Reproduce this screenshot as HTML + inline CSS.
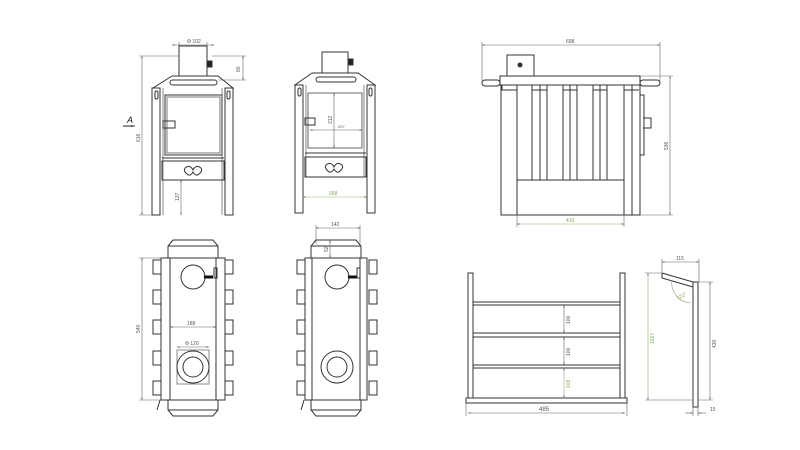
<!DOCTYPE html>
<html><head><meta charset="utf-8"><style>
html,body{margin:0;padding:0;background:#fff;}
svg{display:block}
text{font-family:"Liberation Sans",sans-serif;fill:#555;}
</style></head><body>
<svg width="800" height="450" viewBox="0 0 800 450" xmlns="http://www.w3.org/2000/svg">
<defs>
<marker id="a" viewBox="0 0 10 10" refX="10" refY="5" markerWidth="4" markerHeight="4" orient="auto-start-reverse"><path d="M0,2L10,5L0,8z" fill="#555"/></marker>
</defs>
<g fill="none" stroke="#333" stroke-width="1">
<!-- VIEW 1 -->
<rect x="179" y="46" width="28" height="30"/>
<rect x="207" y="61" width="5" height="6" fill="#222"/>
<path d="M172,76 L218,76 L233,88 L225,88 L225,180 M172,76 L153,88 L160,88 L160,180"/>
<rect x="152" y="88" width="8" height="127"/>
<rect x="225" y="88" width="8" height="127"/>
<line x1="163" y1="88" x2="163" y2="215" stroke="#888"/>
<line x1="222" y1="88" x2="222" y2="215" stroke="#888"/>
<rect x="170" y="80" width="47" height="5" rx="2.5"/>
<rect x="155" y="91" width="3" height="8" rx="1.5"/>
<rect x="227" y="91" width="3" height="8" rx="1.5"/>
<rect x="165" y="95" width="57" height="60"/>
<rect x="167" y="97" width="53" height="56" stroke="#777"/>
<rect x="163" y="121" width="12" height="7"/>
<line x1="162" y1="158" x2="224" y2="158"/>
<rect x="162" y="161" width="62" height="19"/>
<path d="M185,168 q5,-4 8,2 q3,-6 8,-2 q2,3 -2,6 q-3,3 -6,-2 q-3,5 -6,2 q-4,-3 -2,-6z"/>
<!-- VIEW 2 -->
<rect x="322" y="52" width="26" height="21"/>
<rect x="348" y="59" width="5" height="6" fill="#222"/>
<path d="M312,73 L358,73 L375,85 L367,85 M312,73 L295,85 L303,85"/>
<rect x="295" y="85" width="8" height="128"/>
<rect x="367" y="85" width="8" height="128"/>
<line x1="306" y1="85" x2="306" y2="177" stroke="#888"/>
<line x1="364" y1="85" x2="364" y2="177" stroke="#888"/>
<rect x="316" y="77" width="40" height="5" rx="2.5"/>
<rect x="298" y="88" width="3" height="8" rx="1.5"/>
<rect x="369" y="88" width="3" height="8" rx="1.5"/>
<rect x="308" y="93" width="54" height="55" stroke="#666"/>
<rect x="305" y="118" width="10" height="7"/>
<line x1="305" y1="153" x2="366" y2="153"/>
<rect x="305" y="157" width="61" height="20"/>
<path d="M326,165 q5,-4 8,2 q3,-6 8,-2 q2,3 -2,6 q-3,3 -6,-2 q-3,5 -6,2 q-4,-3 -2,-6z"/>
<!-- VIEW 3 -->
<rect x="507" y="55" width="27" height="21"/>
<circle cx="520" cy="65" r="2" fill="#333"/>
<rect x="500" y="76" width="140" height="9"/>
<rect x="482" y="80" width="18" height="6" rx="3"/>
<rect x="640" y="80" width="20" height="6" rx="3"/>
<rect x="501" y="85" width="139" height="130"/>
<rect x="517" y="180" width="107" height="35"/>
<path d="M517,85V180 M532,85V180 M540,85V180 M547,85V180 M563,85V180 M570,85V180 M577,85V180 M593,85V180 M600,85V180 M607,85V180 M624,85V180 M632,85V215"/>
<path d="M532,85v5h15v-5 M563,85v5h14v-5 M593,85v5h14v-5 M624,85v5h15 M502,85v5h15"/>
<path d="M640,95 h4 v60 h-4 M643,118 h8 v10 h-8"/>
<!-- VIEW 4 -->
<path d="M173,240 L213,240 L218,246 L218,258 M173,240 L168,246 L168,258 M168,246 L218,246"/>
<rect x="161" y="258" width="64" height="142"/>
<line x1="170" y1="258" x2="170" y2="400"/>
<line x1="216" y1="258" x2="216" y2="400"/>
<g id="tabs">
<rect x="153" y="260" width="8" height="14"/><rect x="153" y="290" width="8" height="14"/><rect x="153" y="320" width="8" height="14"/><rect x="153" y="351" width="8" height="14"/><rect x="153" y="381" width="8" height="14"/>
<rect x="225" y="260" width="8" height="14"/><rect x="225" y="290" width="8" height="14"/><rect x="225" y="320" width="8" height="14"/><rect x="225" y="351" width="8" height="14"/><rect x="225" y="381" width="8" height="14"/>
</g>
<circle cx="193" cy="277" r="12"/>
<line x1="204" y1="277" x2="213" y2="277" stroke="#111" stroke-width="3"/>
<rect x="214" y="268" width="3" height="10"/>
<rect x="177" y="350" width="32" height="34" stroke="#888"/>
<circle cx="193" cy="367" r="16"/>
<circle cx="193" cy="367" r="10"/>
<path d="M168,400 L168,410 L173,416 L213,416 L218,410 L218,400 M168,410 L218,410"/>
<path d="M160,400 l-3,10"/>
<!-- VIEW 5 -->
<path d="M316,240 L356,240 L361,246 L361,258 M316,240 L311,246 L311,258 M311,246 L361,246"/>
<rect x="305" y="258" width="62" height="142"/>
<line x1="312" y1="258" x2="312" y2="400"/>
<line x1="360" y1="258" x2="360" y2="400"/>
<use href="#tabs" x="144"/>
<circle cx="337" cy="277" r="12"/>
<line x1="348" y1="277" x2="357" y2="277" stroke="#111" stroke-width="3"/>
<rect x="357" y="268" width="3" height="10"/>
<circle cx="337" cy="367" r="16"/>
<circle cx="337" cy="367" r="10"/>
<path d="M311,400 L311,410 L316,416 L356,416 L361,410 L361,400 M311,410 L361,410"/>
<path d="M304,400 l-3,10"/>
<!-- VIEW 6 -->
<rect x="468" y="273" width="5" height="125"/>
<rect x="620" y="273" width="5" height="125"/>
<rect x="473" y="302" width="147" height="3"/>
<rect x="473" y="333" width="147" height="4"/>
<rect x="473" y="365" width="147" height="3"/>
<rect x="466" y="398" width="161" height="5"/>
<!-- VIEW 7 -->
<path d="M662,273 L693,282 L693,407 L698,407 L698,282 L693,282 M662,273 L662,278 L693,287"/>
</g>
<!-- Dimensions -->
<g stroke="#666" stroke-width="0.6" fill="none">
<line x1="172" y1="45" x2="214" y2="45" marker-start="url(#a)" marker-end="url(#a)"/>
<path d="M179,42V46 M207,42V46"/>
<line x1="142" y1="56" x2="142" y2="215" marker-start="url(#a)" marker-end="url(#a)"/>
<path d="M139,56H179 M139,215H152 M212,56H246 M218,80H246"/>
<line x1="243" y1="56" x2="243" y2="80" marker-start="url(#a)" marker-end="url(#a)"/>
<line x1="181" y1="180" x2="181" y2="215" marker-start="url(#a)" marker-end="url(#a)"/>
<line x1="334" y1="93" x2="334" y2="148" marker-start="url(#a)" marker-end="url(#a)"/>
<line x1="310" y1="130" x2="362" y2="130" marker-start="url(#a)" marker-end="url(#a)"/>
<line x1="303" y1="197" x2="367" y2="197" stroke="#9a6" marker-start="url(#a)" marker-end="url(#a)"/>
<line x1="482" y1="45" x2="660" y2="45" marker-start="url(#a)" marker-end="url(#a)"/>
<path d="M482,42V82 M660,42V82 M640,76H673 M640,215H673 M517,215V227 M624,215V227"/>
<line x1="670" y1="76" x2="670" y2="215" marker-start="url(#a)" marker-end="url(#a)"/>
<line x1="517" y1="224" x2="624" y2="224" stroke="#9a6" marker-start="url(#a)" marker-end="url(#a)"/>
<line x1="170" y1="327" x2="216" y2="327" marker-start="url(#a)" marker-end="url(#a)"/>
<line x1="177" y1="347" x2="209" y2="347" marker-start="url(#a)" marker-end="url(#a)"/>
<line x1="142" y1="258" x2="142" y2="400" marker-start="url(#a)" marker-end="url(#a)"/>
<path d="M139,258H161 M139,400H161"/>
<line x1="316" y1="228" x2="360" y2="228" marker-start="url(#a)" marker-end="url(#a)"/>
<path d="M316,225V244 M360,225V244"/>
<line x1="330" y1="240" x2="330" y2="258" marker-start="url(#a)" marker-end="url(#a)"/>
<line x1="564" y1="305" x2="564" y2="333" marker-start="url(#a)" marker-end="url(#a)"/>
<line x1="564" y1="337" x2="564" y2="365" marker-start="url(#a)" marker-end="url(#a)"/>
<line x1="564" y1="368" x2="564" y2="398" stroke="#9a6" marker-start="url(#a)" marker-end="url(#a)"/>
<line x1="468" y1="413" x2="625" y2="413" marker-start="url(#a)" marker-end="url(#a)"/>
<path d="M466,403V416 M627,403V416"/>
<line x1="662" y1="262" x2="699" y2="262" marker-start="url(#a)" marker-end="url(#a)"/>
<path d="M662,259V273 M699,259V282 M645,273H662 M645,400H693 M698,282H713 M698,400H713 M693,407V416 M698,407V416"/>
<line x1="648" y1="273" x2="648" y2="400" stroke="#9a6" marker-start="url(#a)" marker-end="url(#a)"/>
<line x1="710" y1="282" x2="710" y2="400" marker-start="url(#a)" marker-end="url(#a)"/>
<line x1="685" y1="413" x2="693" y2="413" marker-end="url(#a)"/>
<line x1="706" y1="413" x2="698" y2="413" marker-end="url(#a)"/>
<path d="M672,280 A20,20 0 0 0 691,303" stroke="#9a6"/>
<line x1="123" y1="126" x2="135" y2="126" stroke="#222" stroke-width="1" marker-end="url(#a)"/>
</g>
<g font-size="5">
<text x="187" y="43">Φ 102</text>
<text transform="translate(240,72) rotate(-90)">80</text>
<text transform="translate(140,142) rotate(-90)">616</text>
<text transform="translate(179,201) rotate(-90)">137</text>
<text transform="translate(332,124) rotate(-90)">212</text>
<text x="338" y="128" font-size="4">207</text>
<text x="329" y="195" style="fill:#7a5">268</text>
<text x="566" y="43">698</text>
<text transform="translate(668,150) rotate(-90)">536</text>
<text x="566" y="222" style="fill:#7a5">410</text>
<text x="187" y="325">188</text>
<text x="185" y="345">Φ 120</text>
<text transform="translate(140,333) rotate(-90)">540</text>
<text x="331" y="226">142</text>
<text transform="translate(328,252) rotate(-90)">52</text>
<text transform="translate(570,324) rotate(-90)">100</text>
<text transform="translate(570,356) rotate(-90)">100</text>
<text transform="translate(570,388) rotate(-90)" style="fill:#7a5">103</text>
<text x="539" y="411" font-size="6">485</text>
<text x="676" y="260">115</text>
<text transform="translate(654,344) rotate(-90)" style="fill:#7a5">1027</text>
<text transform="translate(716,348) rotate(-90)">430</text>
<text x="710" y="411">15</text>
<text transform="translate(678,300) rotate(-30)" style="fill:#7a5">122°</text>
</g>
<text x="127" y="123" font-size="9" font-style="italic" style="fill:#222">A</text>
</svg>
</body></html>
